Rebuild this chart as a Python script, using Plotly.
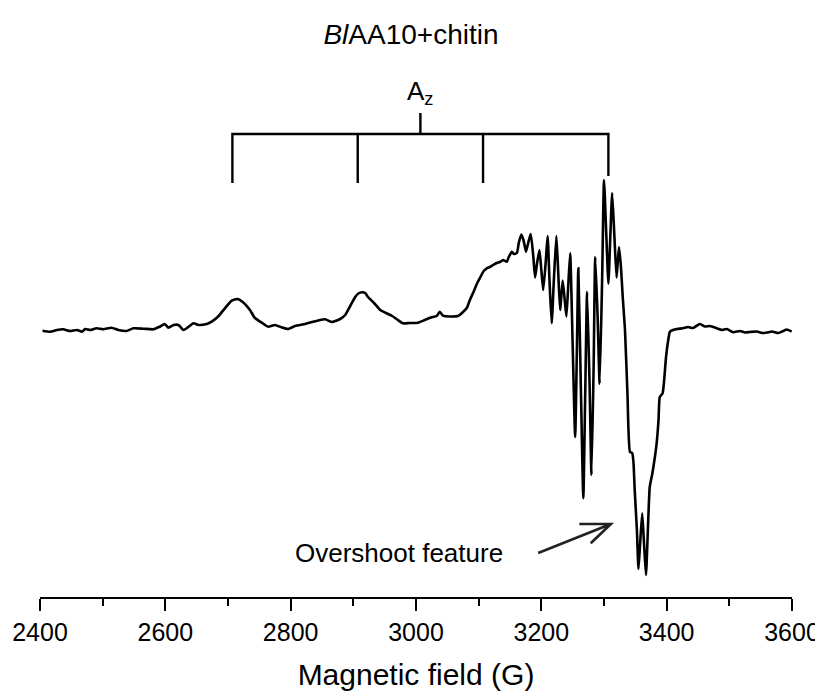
import plotly.graph_objects as go

# ---- Spectrum data ----
field_G = [2404, 2416, 2427, 2437, 2448, 2459, 2467, 2472, 2480, 2490, 2501, 2514, 2525, 2538, 2549,
           2565, 2581, 2591, 2599, 2605, 2613, 2621, 2629, 2645, 2653, 2666, 2674, 2685, 2695, 2706,
           2715, 2724, 2735, 2743, 2754, 2764, 2775, 2786, 2796, 2807, 2823, 2834, 2844, 2855, 2866,
           2879, 2887, 2895, 2903, 2908, 2914, 2919, 2923, 2933, 2943, 2952, 2962, 2971, 2979, 2990,
           3003, 3014, 3024, 3033, 3038, 3043, 3054, 3067, 3075, 3081, 3086, 3091, 3097, 3102, 3108,
           3113, 3118, 3123, 3129, 3134, 3139, 3145, 3148, 3153, 3156, 3161, 3164, 3168, 3171.5, 3175.5,
           3179, 3183, 3187, 3190, 3193, 3197, 3200, 3203, 3207, 3210, 3213, 3216.5, 3220, 3224, 3227,
           3230, 3234, 3237, 3240, 3243, 3246, 3250, 3254, 3257, 3259, 3263, 3267, 3270, 3273, 3277,
           3280, 3283.5, 3286, 3290, 3293, 3297, 3300, 3303.5, 3307, 3310, 3313, 3316.5, 3320, 3322, 3324,
           3327, 3330, 3333.5, 3337.5, 3341.5, 3345, 3347, 3349, 3352.5, 3355, 3358, 3361, 3364, 3367, 3370,
           3373, 3377, 3380.5, 3384, 3387, 3389, 3393.5, 3396, 3399, 3402.5, 3405, 3408, 3416.5, 3426, 3434,
           3442, 3453, 3461, 3469, 3480, 3488, 3496, 3506, 3517, 3525, 3533, 3544, 3552, 3560, 3568,
           3578, 3586, 3591.5, 3599.5]
intensity_au = [-0.7, -1.7, 0, 0.7, -1, 0, -1.7, 1, 0, 1.7, 0.7, 2.3, 0, -1, 1.7,
                1.3, 0.7, 3.3, 6, 2.3, 5, 5, 0, 6.7, 5, 6, 8.3, 14, 21.7, 29.3,
                31, 27.7, 20, 12, 7.3, 3.3, 5, 2.5, 1, 4, 6, 8, 9.5, 10.7, 8,
                11, 15, 24, 33, 36.5, 37.7, 37, 33.3, 27, 20, 17, 14, 10, 6.7, 7,
                7.3, 10, 12.5, 14, 18.3, 14.3, 13.5, 14, 18, 22, 30, 37, 46, 52, 59,
                61.7, 63, 65, 67, 68, 70, 68.3, 73, 78.3, 76, 77, 87, 95.5, 90, 78.3,
                87, 96, 75, 52.5, 66, 80, 60, 40, 68, 94, 50, 6.7, 50, 94, 57,
                20, 49.5, 32, 13.5, 45, 76.7, -15, -107, -10, 61.7, -55, -168.3, -65, 38.3, -55,
                -145, -35, 73, 10, -53.8, 50, 150, 98, 46.3, 92, 137, 95, 52.5, 68, 83,
                63.3, 32, 0, -65, -122, -123, -132, -160, -200, -239, -210, -183.3, -215, -245, -200,
                -157, -144, -130, -113.3, -90, -67, -63.3, -50, -27, -10, -2, -0.5, 1, 1.7, 3,
                2, 6, 3.5, 4, 1.7, 0, 1, -2.3, -1, -2.5, -2, -1.5, -3, -2.5, -1.5,
                -3, -1, 0.5, -1.5]

# A_z hyperfine splitting markers (G)
az_lines_G = [2707, 2907, 3107, 3307]

# Overshoot-feature arrow: tail, tip and open-head arm ends (G, a.u.)
arrow_tail = (3195, -223)
arrow_tip = (3311, -194)
arrow_arm1 = (3260.6, -194)
arrow_arm2 = (3278.8, -213.3)

x_tick_vals = [2400, 2600, 2800, 3000, 3200, 3400, 3600]
x_tick_text = ["2400", "2600", "2800", "3000", "3200", "3400", "3600"]

FONT = "Arial, Liberation Sans, sans-serif"
W, H = 815, 683   # page body adds an 8px offset

fig = go.Figure()
fig.add_trace(go.Scatter(x=field_G, y=intensity_au, mode="lines",
                         line=dict(color="black", width=2.6, shape="spline", smoothing=0.5),
                         hoverinfo="skip", showlegend=False))

# Bracket for A_z
br_top, br_bot, br_bot_last, stem_top = 196, 147, 154, 217
path = (f"M {az_lines_G[0]},{br_bot} L {az_lines_G[0]},{br_top} "
        f"L {az_lines_G[-1]},{br_top} L {az_lines_G[-1]},{br_bot_last}")
for g in az_lines_G[1:-1]:
    path += f" M {g},{br_bot} L {g},{br_top}"
center = (az_lines_G[0] + az_lines_G[-1]) / 2
path += f" M {center},{br_top} L {center},{stem_top}"
shapes = [dict(type="path", path=path, xref="x", yref="y",
               line=dict(color="black", width=2.4))]

# Arrow with open head
tx, ty = arrow_tail
hx, hy = arrow_tip
apath = (f"M {tx},{ty} L {hx},{hy} M {arrow_arm1[0]},{arrow_arm1[1]} "
         f"L {hx},{hy} L {arrow_arm2[0]},{arrow_arm2[1]}")
shapes.append(dict(type="path", path=apath, xref="x", yref="y",
                   line=dict(color="#222222", width=2.6)))

annotations = [
    dict(x=center, y=stem_top + 2, xref="x", yref="y", text="A<sub>z</sub>",
         showarrow=False, xanchor="center", yanchor="bottom",
         font=dict(family=FONT, size=26, color="black")),
    dict(x=3142, y=-223, xref="x", yref="y", text="Overshoot feature",
         showarrow=False, xanchor="right", yanchor="middle",
         font=dict(family=FONT, size=26, color="black")),
]

fig.update_layout(
    width=W, height=H,
    margin=dict(l=32, r=31, t=0, b=94),
    paper_bgcolor="white", plot_bgcolor="white",
    title=dict(text="<i>Bl</i>AA10+chitin", x=(411 - 8) / W, xref="container", xanchor="center",
               y=1 - 26 / H, yref="container", yanchor="middle",
               font=dict(family=FONT, size=28, color="black")),
    shapes=shapes, annotations=annotations,
    xaxis=dict(range=[2400, 3600], showgrid=False, zeroline=False,
               showline=True, linecolor="black", linewidth=2,
               ticks="outside", ticklen=12, tickwidth=2, tickcolor="black",
               tickvals=x_tick_vals, ticktext=x_tick_text,
               minor=dict(dtick=100, ticks="outside", ticklen=7, tickwidth=2, tickcolor="black"),
               tickfont=dict(family=FONT, size=25, color="black"),
               title=dict(text="Magnetic field (G)", standoff=19,
                          font=dict(family=FONT, size=30, color="black"))),
    yaxis=dict(range=[-267, 322], visible=False, showgrid=False, zeroline=False),
)

fig.write_html("out.html")
